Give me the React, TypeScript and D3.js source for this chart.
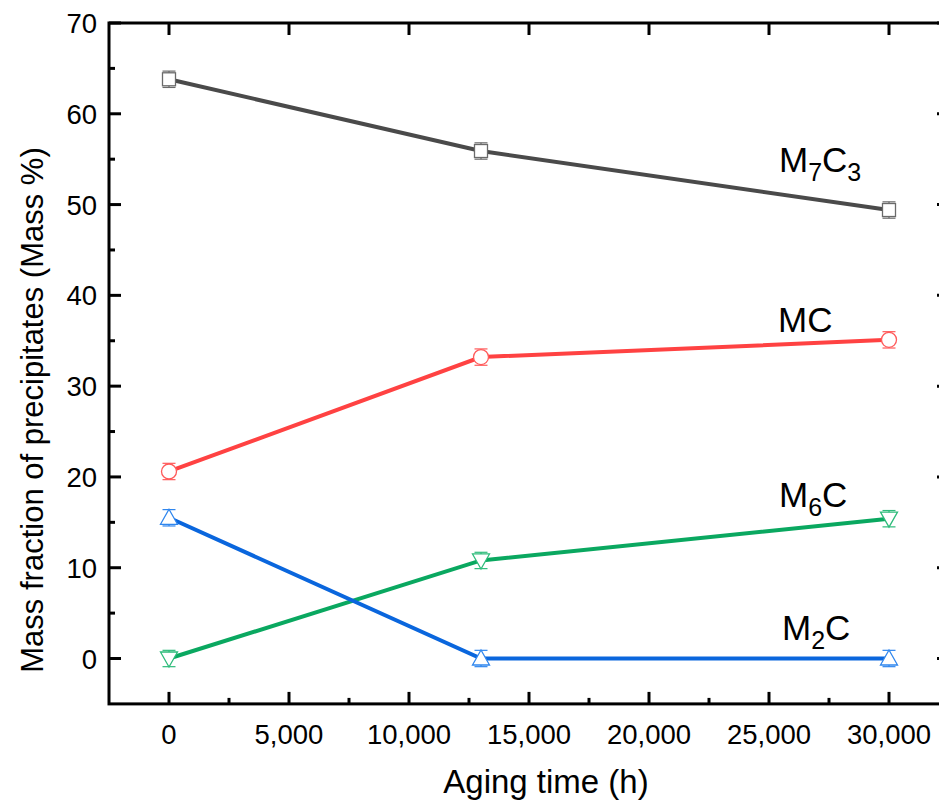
import React from "react";
import * as d3 from "d3";

const agingTimes = [0, 13000, 30000];
const m7c3 = [63.8, 55.9, 49.4];
const mc = [20.6, 33.2, 35.1];
const m6c = [0, 10.8, 15.4];
const m2c = [15.5, 0, 0];
const errM7C3 = [0.9, 0.9, 0.9];
const errMC = [0.9, 0.9, 0.9];
const errM6C = [0.9, 0.9, 0.9];
const errM2C = [0.9, 0.9, 0.9];
const xTicks = [0, 5000, 10000, 15000, 20000, 25000, 30000];
const xMinor = [2500, 7500, 12500, 17500, 22500, 27500];
const yTicks = [0, 10, 20, 30, 40, 50, 60, 70];
const yMinor = [5, 15, 25, 35, 45, 55, 65];

const W = 939;
const H = 802;
const FONT = "'Liberation Sans', Arial, Helvetica, sans-serif";

const x = d3.scaleLinear().domain([-2500, 32500]).range([109, 949]);
const y = d3.scaleLinear().domain([-5, 70]).range([703.9, 23]);

type Series = {
  name: string;
  main: string;
  sub1: string;
  tail: string;
  sub2: string;
  values: number[];
  err: number[];
  line: string;
  marker: string;
  shape: "square" | "circle" | "down" | "up";
  lx: number;
  ly: number;
};

const series: Series[] = [
  { name: "M7C3", main: "M", sub1: "7", tail: "C", sub2: "3", values: m7c3, err: errM7C3, line: "#4a4a4a", marker: "#6a6a6a", shape: "square", lx: 779, ly: 172 },
  { name: "MC", main: "MC", sub1: "", tail: "", sub2: "", values: mc, err: errMC, line: "#ff4242", marker: "#ff5a5a", shape: "circle", lx: 778, ly: 332 },
  { name: "M6C", main: "M", sub1: "6", tail: "C", sub2: "", values: m6c, err: errM6C, line: "#0aa860", marker: "#2dbb7a", shape: "down", lx: 779, ly: 507 },
  { name: "M2C", main: "M", sub1: "2", tail: "C", sub2: "", values: m2c, err: errM2C, line: "#0a66dd", marker: "#2f86ee", shape: "up", lx: 782, ly: 640 },
];

function Marker({ cx, cy, shape, color }: { cx: number; cy: number; shape: string; color: string }) {
  const s = 6.5;
  if (shape === "square")
    return <rect x={cx - s} y={cy - s} width={2 * s} height={2 * s} fill="white" stroke={color} strokeWidth={1.3} />;
  if (shape === "circle") return <circle cx={cx} cy={cy} r={7.5} fill="white" stroke={color} strokeWidth={1.3} />;
  const pts =
    shape === "up"
      ? [[cx, cy - 8.5], [cx + 8.5, cy + 6.5], [cx - 8.5, cy + 6.5]]
      : [[cx, cy + 8.5], [cx + 8.5, cy - 6.5], [cx - 8.5, cy - 6.5]];
  return <polygon points={pts.map((p) => p.join(",")).join(" ")} fill="white" stroke={color} strokeWidth={1.3} />;
}

export default function App() {
  const line = d3
    .line<number>()
    .x((_, i) => x(agingTimes[i]))
    .y((d) => y(d));
  const left = x(-2500);
  const right = x(32500);
  const top = y(70);
  const bottom = y(-5);
  return (
    <svg width={W} height={H} style={{ position: "absolute", left: 0, top: 0, background: "white" }} fontFamily={FONT}>
      {series.map((s) => (
        <path key={s.name + "l"} d={line(s.values) || ""} fill="none" stroke={s.line} strokeWidth={4} />
      ))}
      {series.map((s) =>
        s.values.map((v, i) => {
          const cx = x(agingTimes[i]);
          const cy = y(v);
          const y1 = y(v + s.err[i]);
          const y2 = y(v - s.err[i]);
          return (
            <g key={s.name + i}>
              <line x1={cx} x2={cx} y1={y1} y2={y2} stroke={s.marker} strokeWidth={1.2} />
              <line x1={cx - 6.5} x2={cx + 6.5} y1={y1} y2={y1} stroke={s.marker} strokeWidth={1.2} />
              <line x1={cx - 6.5} x2={cx + 6.5} y1={y2} y2={y2} stroke={s.marker} strokeWidth={1.2} />
              <Marker cx={cx} cy={cy} shape={s.shape} color={s.marker} />
            </g>
          );
        })
      )}
      <rect x={left} y={top} width={right - left} height={bottom - top} fill="none" stroke="black" strokeWidth={3} />
      {xTicks.map((t) => (
        <g key={"xb" + t}>
          <line x1={x(t)} x2={x(t)} y1={bottom} y2={bottom - 12} stroke="black" strokeWidth={3} />
          <line x1={x(t)} x2={x(t)} y1={top} y2={top + 12} stroke="black" strokeWidth={3} />
          <text x={x(t)} y={744} textAnchor="middle" fontSize={27.5} fill="black">
            {d3.format(",")(t)}
          </text>
        </g>
      ))}
      {xMinor.map((t) => (
        <line key={"xm" + t} x1={x(t)} x2={x(t)} y1={bottom} y2={bottom - 6} stroke="black" strokeWidth={3} />
      ))}
      {yTicks.map((t) => (
        <g key={"yt" + t}>
          <line x1={left} x2={left + 12} y1={y(t)} y2={y(t)} stroke="black" strokeWidth={3} />
          <line x1={right} x2={right - 12} y1={y(t)} y2={y(t)} stroke="black" strokeWidth={3} />
          <text x={97} y={y(t) + 10} textAnchor="end" fontSize={27.5} fill="black">
            {t}
          </text>
        </g>
      ))}
      {yMinor.map((t) => (
        <line key={"ym" + t} x1={left} x2={left + 6} y1={y(t)} y2={y(t)} stroke="black" strokeWidth={3} />
      ))}
      <text x={546} y={793} textAnchor="middle" fontSize={33} fill="black">
        Aging time (h)
      </text>
      <text transform={`translate(43,410) rotate(-90)`} textAnchor="middle" fontSize={31} fill="black">
        Mass fraction of precipitates (Mass %)
      </text>
      {series.map((s) => (
        <text key={s.name + "t"} x={s.lx} y={s.ly} fontSize={35} fill="black">
          {s.main}
          {s.sub1 && (
            <tspan fontSize={25} dy={9}>
              {s.sub1}
            </tspan>
          )}
          {s.tail && (
            <tspan fontSize={35} dy={s.sub1 ? -9 : 0}>
              {s.tail}
            </tspan>
          )}
          {s.sub2 && (
            <tspan fontSize={25} dy={9}>
              {s.sub2}
            </tspan>
          )}
        </text>
      ))}
    </svg>
  );
}
